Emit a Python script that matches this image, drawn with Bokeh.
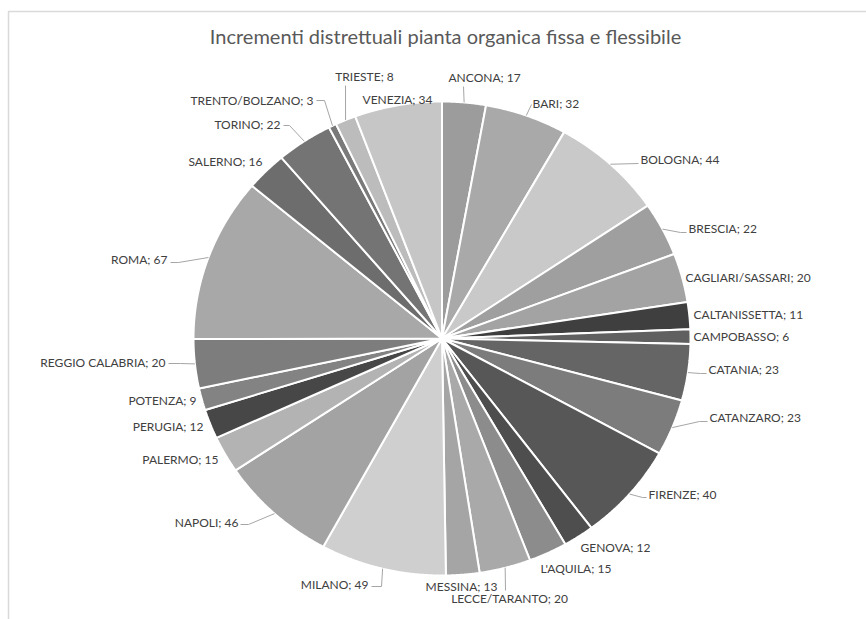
import math
from bokeh.plotting import figure
from bokeh.models import Range1d, ColumnDataSource
from bokeh.core.properties import value
from bokeh.embed import file_html
from bokeh.resources import INLINE

# ---- data ----
districts = ["ANCONA", "BARI", "BOLOGNA", "BRESCIA", "CAGLIARI/SASSARI", "CALTANISSETTA",
             "CAMPOBASSO", "CATANIA", "CATANZARO", "FIRENZE", "GENOVA", "L'AQUILA",
             "LECCE/TARANTO", "MESSINA", "MILANO", "NAPOLI", "PALERMO", "PERUGIA",
             "POTENZA", "REGGIO CALABRIA", "ROMA", "SALERNO", "TORINO", "TRENTO/BOLZANO",
             "TRIESTE", "VENEZIA"]
increments = [17, 32, 44, 22, 20, 11, 6, 23, 23, 40, 12, 15, 20, 13, 49, 46, 15, 12, 9, 20,
              67, 16, 22, 3, 8, 34]
title_text = "Incrementi distrettuali pianta organica fissa e flessibile"

# ---- styles / layout ----
slice_colors = ["#9c9c9c", "#a9a9a9", "#c9c9c9", "#9f9f9f", "#a3a3a3", "#3f3f3f",
                "#606060", "#656565", "#7c7c7c", "#575757", "#4e4e4e", "#8c8c8c",
                "#a9a9a9", "#a5a5a5", "#cfcfcf", "#a3a3a3", "#b3b3b3", "#474747",
                "#838383", "#7d7d7d", "#a8a8a8", "#6d6d6d", "#747474", "#7a7a7a",
                "#bcbcbc", "#c6c6c6"]
CX, CY, RX, RY = 441.5, 338.0, 248.5, 237.0
W, H = 866, 619

# label anchor (x, y, align)
label_pos = [(448, 77, "left"), (532, 103, "left"), (640, 159, "left"), (688, 228, "left"),
             (685, 277, "left"), (693, 314, "left"), (693, 336, "left"), (708, 369, "left"),
             (709, 417, "left"), (648, 494, "left"), (580, 547, "left"), (540, 568, "left"),
             (509, 598, "center"), (461, 586, "center"), (368, 584, "right"), (238, 522, "right"),
             (218, 459, "right"), (203, 426, "right"), (196, 400, "right"), (165, 362, "right"),
             (167, 259, "right"), (262, 161, "right"), (280, 124, "right"), (313, 100, "right"),
             (364, 76, "center"), (397, 99, "center")]
# leader end near label (None = no leader), stub = horizontal stub toward the pie
leader_end = [(463, 86, 0), (531, 104, 0), (638, 163, 0), (686, 232, 6), None, None, None,
              (706, 373, 6), (707, 421, 8), (646, 497, 4), None, None, (505, 590, 0), None,
              (371, 586, -10), (240, 524, -8), None, None, None, (168, 363, -12),
              (170, 262, -8), None, (283, 125, -6), (316, 100, -8), (345, 85, 0), None]

total = float(sum(increments))
xs, ys = [], []
mids = []
cum = 0.0
for v in increments:
    a0 = cum / total * 2 * math.pi
    a1 = (cum + v) / total * 2 * math.pi
    n = max(4, int(v * 2))
    px, py = [CX], [CY]
    for i in range(n + 1):
        a = a0 + (a1 - a0) * i / n
        px.append(CX + RX * math.sin(a))
        py.append(CY - RY * math.cos(a))
    xs.append(px)
    ys.append(py)
    mids.append((a0 + a1) / 2)
    cum += v

p = figure(width=W, height=H, output_backend="svg", toolbar_location=None,
           x_range=Range1d(0, W), y_range=Range1d(H, 0), min_border=0)
p.axis.visible = False
p.grid.visible = False
p.outline_line_color = None
p.background_fill_color = "white"
p.border_fill_color = "white"

# chart frame
p.line([8, 8, W + 5], [H + 5, 11, 11], line_color="#d9d9d9", line_width=1.5)

src = ColumnDataSource(dict(xs=xs, ys=ys, color=slice_colors, name=districts))
p.patches("xs", "ys", source=src, fill_color="color", line_color="white", line_width=2)

# leader lines
lx, ly = [], []
for m, le in zip(mids, leader_end):
    if le is None:
        continue
    ex = CX + RX * math.sin(m)
    ey = CY - RY * math.cos(m)
    tx, ty, stub = le
    if stub:
        lx.append([ex, tx - stub, tx])
        ly.append([ey, ty, ty])
    else:
        lx.append([ex, tx])
        ly.append([ey, ty])
p.multi_line(lx, ly, line_color="#a6a6a6", line_width=1)

# labels
for name, v, (x, y, al) in zip(districts, increments, label_pos):
    p.text([x], [y], text=[f"{name}; {v}"], text_align=al, text_baseline="middle",
           text_font=value("Lato"), text_font_size="12px", text_color="#404040")

p.text([445], [35], text=[title_text], text_align="center", text_baseline="middle",
       text_font=value("Lato"), text_font_size="20px", text_color="#595959")

open("out.html", "w").write(file_html(p, INLINE))
